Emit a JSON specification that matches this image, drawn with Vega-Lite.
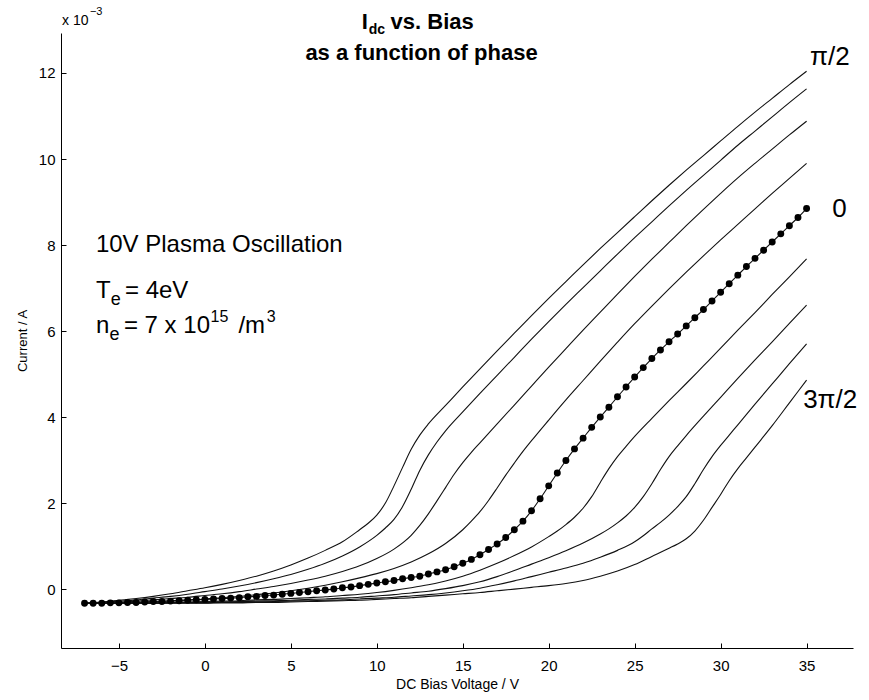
{
"$schema":"https://vega.github.io/schema/vega-lite/v6.json",
"width":792,"height":615,
"autosize":{"type":"none"},
"padding":{"left":61,"top":33,"right":16,"bottom":52},
"background":"white",
"config":{"view":{"stroke":null},"font":"Liberation Sans","axis":{"grid":false,"domainColor":"#000","tickColor":"#000","labelColor":"#000","titleColor":"#000","labelFont":"Liberation Sans","titleFont":"Liberation Sans","titleFontWeight":"normal"}},
"datasets":{
"curves":[
{"curve":1,"bias":-7,"current":-0.33},{"curve":1,"bias":-6,"current":-0.30},{"curve":1,"bias":-5,"current":-0.26},{"curve":1,"bias":-4,"current":-0.22},{"curve":1,"bias":-3,"current":-0.17},{"curve":1,"bias":-2,"current":-0.11},{"curve":1,"bias":-1,"current":-0.04},{"curve":1,"bias":0,"current":0.03},{"curve":1,"bias":1,"current":0.11},{"curve":1,"bias":2,"current":0.2},{"curve":1,"bias":3,"current":0.3},{"curve":1,"bias":4,"current":0.42},{"curve":1,"bias":5,"current":0.56},{"curve":1,"bias":6,"current":0.72},{"curve":1,"bias":7,"current":0.9},{"curve":1,"bias":8,"current":1.1},{"curve":1,"bias":9,"current":1.38},{"curve":1,"bias":9.5,"current":1.53},{"curve":1,"bias":10,"current":1.72},{"curve":1,"bias":10.5,"current":2.0},{"curve":1,"bias":11,"current":2.4},{"curve":1,"bias":11.5,"current":2.83},{"curve":1,"bias":12,"current":3.25},{"curve":1,"bias":12.5,"current":3.58},{"curve":1,"bias":13,"current":3.84},{"curve":1,"bias":14,"current":4.27},{"curve":1,"bias":15,"current":4.7},{"curve":1,"bias":16,"current":5.12},{"curve":1,"bias":17,"current":5.54},{"curve":1,"bias":18,"current":5.95},{"curve":1,"bias":19,"current":6.36},{"curve":1,"bias":20,"current":6.76},{"curve":1,"bias":21,"current":7.15},{"curve":1,"bias":22,"current":7.54},{"curve":1,"bias":23,"current":7.92},{"curve":1,"bias":24,"current":8.29},{"curve":1,"bias":25,"current":8.66},{"curve":1,"bias":26,"current":9.03},{"curve":1,"bias":27,"current":9.39},{"curve":1,"bias":28,"current":9.74},{"curve":1,"bias":29,"current":10.08},{"curve":1,"bias":30,"current":10.42},{"curve":1,"bias":31,"current":10.76},{"curve":1,"bias":32,"current":11.09},{"curve":1,"bias":33,"current":11.41},{"curve":1,"bias":34,"current":11.73},{"curve":1,"bias":35,"current":12.04},
{"curve":2,"bias":-7,"current":-0.33},{"curve":2,"bias":-6,"current":-0.31},{"curve":2,"bias":-5,"current":-0.28},{"curve":2,"bias":-4,"current":-0.25},{"curve":2,"bias":-3,"current":-0.21},{"curve":2,"bias":-2,"current":-0.17},{"curve":2,"bias":-1,"current":-0.12},{"curve":2,"bias":0,"current":-0.06},{"curve":2,"bias":1,"current":0.0},{"curve":2,"bias":2,"current":0.07},{"curve":2,"bias":3,"current":0.15},{"curve":2,"bias":4,"current":0.24},{"curve":2,"bias":5,"current":0.34},{"curve":2,"bias":6,"current":0.46},{"curve":2,"bias":7,"current":0.6},{"curve":2,"bias":8,"current":0.77},{"curve":2,"bias":9,"current":0.98},{"curve":2,"bias":10,"current":1.25},{"curve":2,"bias":10.5,"current":1.42},{"curve":2,"bias":11,"current":1.62},{"curve":2,"bias":11.5,"current":1.92},{"curve":2,"bias":12,"current":2.32},{"curve":2,"bias":12.5,"current":2.76},{"curve":2,"bias":13,"current":3.12},{"curve":2,"bias":13.5,"current":3.42},{"curve":2,"bias":14,"current":3.68},{"curve":2,"bias":15,"current":4.12},{"curve":2,"bias":16,"current":4.55},{"curve":2,"bias":17,"current":4.97},{"curve":2,"bias":18,"current":5.39},{"curve":2,"bias":19,"current":5.81},{"curve":2,"bias":20,"current":6.22},{"curve":2,"bias":21,"current":6.62},{"curve":2,"bias":22,"current":7.01},{"curve":2,"bias":23,"current":7.4},{"curve":2,"bias":24,"current":7.79},{"curve":2,"bias":25,"current":8.17},{"curve":2,"bias":26,"current":8.54},{"curve":2,"bias":27,"current":8.91},{"curve":2,"bias":28,"current":9.27},{"curve":2,"bias":29,"current":9.62},{"curve":2,"bias":30,"current":9.97},{"curve":2,"bias":31,"current":10.32},{"curve":2,"bias":32,"current":10.65},{"curve":2,"bias":33,"current":10.98},{"curve":2,"bias":34,"current":11.31},{"curve":2,"bias":35,"current":11.63},
{"curve":3,"bias":-7,"current":-0.33},{"curve":3,"bias":-6,"current":-0.32},{"curve":3,"bias":-5,"current":-0.3},{"curve":3,"bias":-4,"current":-0.28},{"curve":3,"bias":-3,"current":-0.25},{"curve":3,"bias":-2,"current":-0.22},{"curve":3,"bias":-1,"current":-0.19},{"curve":3,"bias":0,"current":-0.15},{"curve":3,"bias":1,"current":-0.11},{"curve":3,"bias":2,"current":-0.06},{"curve":3,"bias":3,"current":0.0},{"curve":3,"bias":4,"current":0.06},{"curve":3,"bias":5,"current":0.13},{"curve":3,"bias":6,"current":0.21},{"curve":3,"bias":7,"current":0.3},{"curve":3,"bias":8,"current":0.41},{"curve":3,"bias":9,"current":0.54},{"curve":3,"bias":10,"current":0.71},{"curve":3,"bias":11,"current":0.93},{"curve":3,"bias":12,"current":1.25},{"curve":3,"bias":12.5,"current":1.48},{"curve":3,"bias":13,"current":1.75},{"curve":3,"bias":13.5,"current":2.05},{"curve":3,"bias":14,"current":2.36},{"curve":3,"bias":14.5,"current":2.67},{"curve":3,"bias":15,"current":2.94},{"curve":3,"bias":15.5,"current":3.18},{"curve":3,"bias":16,"current":3.4},{"curve":3,"bias":17,"current":3.84},{"curve":3,"bias":18,"current":4.28},{"curve":3,"bias":19,"current":4.72},{"curve":3,"bias":20,"current":5.16},{"curve":3,"bias":21,"current":5.59},{"curve":3,"bias":22,"current":6.02},{"curve":3,"bias":23,"current":6.44},{"curve":3,"bias":24,"current":6.86},{"curve":3,"bias":25,"current":7.27},{"curve":3,"bias":26,"current":7.67},{"curve":3,"bias":27,"current":8.06},{"curve":3,"bias":28,"current":8.45},{"curve":3,"bias":29,"current":8.83},{"curve":3,"bias":30,"current":9.2},{"curve":3,"bias":31,"current":9.56},{"curve":3,"bias":32,"current":9.9},{"curve":3,"bias":33,"current":10.23},{"curve":3,"bias":34,"current":10.56},{"curve":3,"bias":35,"current":10.88},
{"curve":4,"bias":-7,"current":-0.33},{"curve":4,"bias":-6,"current":-0.33},{"curve":4,"bias":-5,"current":-0.32},{"curve":4,"bias":-4,"current":-0.31},{"curve":4,"bias":-3,"current":-0.29},{"curve":4,"bias":-2,"current":-0.27},{"curve":4,"bias":-1,"current":-0.25},{"curve":4,"bias":0,"current":-0.23},{"curve":4,"bias":1,"current":-0.2},{"curve":4,"bias":2,"current":-0.17},{"curve":4,"bias":3,"current":-0.13},{"curve":4,"bias":4,"current":-0.09},{"curve":4,"bias":5,"current":-0.04},{"curve":4,"bias":6,"current":0.02},{"curve":4,"bias":7,"current":0.09},{"curve":4,"bias":8,"current":0.17},{"curve":4,"bias":9,"current":0.26},{"curve":4,"bias":10,"current":0.36},{"curve":4,"bias":11,"current":0.48},{"curve":4,"bias":12,"current":0.63},{"curve":4,"bias":13,"current":0.82},{"curve":4,"bias":14,"current":1.06},{"curve":4,"bias":15,"current":1.38},{"curve":4,"bias":15.5,"current":1.58},{"curve":4,"bias":16,"current":1.8},{"curve":4,"bias":16.5,"current":2.06},{"curve":4,"bias":17,"current":2.35},{"curve":4,"bias":17.5,"current":2.65},{"curve":4,"bias":18,"current":2.93},{"curve":4,"bias":18.5,"current":3.2},{"curve":4,"bias":19,"current":3.45},{"curve":4,"bias":20,"current":3.93},{"curve":4,"bias":21,"current":4.4},{"curve":4,"bias":22,"current":4.85},{"curve":4,"bias":23,"current":5.3},{"curve":4,"bias":24,"current":5.74},{"curve":4,"bias":25,"current":6.17},{"curve":4,"bias":26,"current":6.58},{"curve":4,"bias":27,"current":6.98},{"curve":4,"bias":28,"current":7.37},{"curve":4,"bias":29,"current":7.75},{"curve":4,"bias":30,"current":8.12},{"curve":4,"bias":31,"current":8.48},{"curve":4,"bias":32,"current":8.84},{"curve":4,"bias":33,"current":9.2},{"curve":4,"bias":34,"current":9.55},{"curve":4,"bias":35,"current":9.9},
{"curve":5,"bias":-7,"current":-0.33},{"curve":5,"bias":-6.5,"current":-0.33},{"curve":5,"bias":-6,"current":-0.33},{"curve":5,"bias":-5.5,"current":-0.32},{"curve":5,"bias":-5,"current":-0.32},{"curve":5,"bias":-4.5,"current":-0.31},{"curve":5,"bias":-4,"current":-0.31},{"curve":5,"bias":-3.5,"current":-0.3},{"curve":5,"bias":-3,"current":-0.29},{"curve":5,"bias":-2.5,"current":-0.29},{"curve":5,"bias":-2,"current":-0.28},{"curve":5,"bias":-1.5,"current":-0.27},{"curve":5,"bias":-1,"current":-0.26},{"curve":5,"bias":-0.5,"current":-0.25},{"curve":5,"bias":0,"current":-0.24},{"curve":5,"bias":0.5,"current":-0.23},{"curve":5,"bias":1,"current":-0.22},{"curve":5,"bias":1.5,"current":-0.21},{"curve":5,"bias":2,"current":-0.2},{"curve":5,"bias":2.5,"current":-0.18},{"curve":5,"bias":3,"current":-0.17},{"curve":5,"bias":3.5,"current":-0.15},{"curve":5,"bias":4,"current":-0.14},{"curve":5,"bias":4.5,"current":-0.12},{"curve":5,"bias":5,"current":-0.1},{"curve":5,"bias":5.5,"current":-0.08},{"curve":5,"bias":6,"current":-0.06},{"curve":5,"bias":6.5,"current":-0.04},{"curve":5,"bias":7,"current":-0.02},{"curve":5,"bias":7.5,"current":0.0},{"curve":5,"bias":8,"current":0.03},{"curve":5,"bias":8.5,"current":0.05},{"curve":5,"bias":9,"current":0.08},{"curve":5,"bias":9.5,"current":0.11},{"curve":5,"bias":10,"current":0.14},{"curve":5,"bias":10.5,"current":0.17},{"curve":5,"bias":11,"current":0.2},{"curve":5,"bias":11.5,"current":0.24},{"curve":5,"bias":12,"current":0.27},{"curve":5,"bias":12.5,"current":0.3},{"curve":5,"bias":13,"current":0.35},{"curve":5,"bias":13.5,"current":0.4},{"curve":5,"bias":14,"current":0.45},{"curve":5,"bias":14.5,"current":0.52},{"curve":5,"bias":15,"current":0.6},{"curve":5,"bias":15.5,"current":0.69},{"curve":5,"bias":16,"current":0.8},{"curve":5,"bias":16.5,"current":0.92},{"curve":5,"bias":17,"current":1.05},{"curve":5,"bias":17.5,"current":1.2},{"curve":5,"bias":18,"current":1.38},{"curve":5,"bias":18.5,"current":1.58},{"curve":5,"bias":19,"current":1.82},{"curve":5,"bias":19.5,"current":2.1},{"curve":5,"bias":20,"current":2.4},{"curve":5,"bias":20.5,"current":2.7},{"curve":5,"bias":21,"current":2.99},{"curve":5,"bias":21.5,"current":3.26},{"curve":5,"bias":22,"current":3.51},{"curve":5,"bias":22.5,"current":3.76},{"curve":5,"bias":23,"current":4.0},{"curve":5,"bias":23.5,"current":4.23},{"curve":5,"bias":24,"current":4.47},{"curve":5,"bias":24.5,"current":4.7},{"curve":5,"bias":25,"current":4.93},{"curve":5,"bias":25.5,"current":5.15},{"curve":5,"bias":26,"current":5.36},{"curve":5,"bias":26.5,"current":5.56},{"curve":5,"bias":27,"current":5.75},{"curve":5,"bias":27.5,"current":5.93},{"curve":5,"bias":28,"current":6.12},{"curve":5,"bias":28.5,"current":6.31},{"curve":5,"bias":29,"current":6.5},{"curve":5,"bias":29.5,"current":6.7},{"curve":5,"bias":30,"current":6.9},{"curve":5,"bias":30.5,"current":7.1},{"curve":5,"bias":31,"current":7.3},{"curve":5,"bias":31.5,"current":7.5},{"curve":5,"bias":32,"current":7.69},{"curve":5,"bias":32.5,"current":7.88},{"curve":5,"bias":33,"current":8.07},{"curve":5,"bias":33.5,"current":8.26},{"curve":5,"bias":34,"current":8.45},{"curve":5,"bias":34.5,"current":8.64},{"curve":5,"bias":35,"current":8.85},
{"curve":6,"bias":-7,"current":-0.33},{"curve":6,"bias":-6,"current":-0.33},{"curve":6,"bias":-5,"current":-0.33},{"curve":6,"bias":-4,"current":-0.32},{"curve":6,"bias":-3,"current":-0.32},{"curve":6,"bias":-2,"current":-0.31},{"curve":6,"bias":-1,"current":-0.3},{"curve":6,"bias":0,"current":-0.29},{"curve":6,"bias":1,"current":-0.28},{"curve":6,"bias":2,"current":-0.27},{"curve":6,"bias":3,"current":-0.25},{"curve":6,"bias":4,"current":-0.24},{"curve":6,"bias":5,"current":-0.22},{"curve":6,"bias":6,"current":-0.2},{"curve":6,"bias":7,"current":-0.18},{"curve":6,"bias":8,"current":-0.15},{"curve":6,"bias":9,"current":-0.12},{"curve":6,"bias":10,"current":-0.08},{"curve":6,"bias":11,"current":-0.03},{"curve":6,"bias":12,"current":0.03},{"curve":6,"bias":13,"current":0.1},{"curve":6,"bias":14,"current":0.19},{"curve":6,"bias":15,"current":0.3},{"curve":6,"bias":16,"current":0.44},{"curve":6,"bias":17,"current":0.6},{"curve":6,"bias":18,"current":0.78},{"curve":6,"bias":19,"current":0.98},{"curve":6,"bias":20,"current":1.22},{"curve":6,"bias":20.5,"current":1.35},{"curve":6,"bias":21,"current":1.5},{"curve":6,"bias":21.5,"current":1.67},{"curve":6,"bias":22,"current":1.88},{"curve":6,"bias":22.5,"current":2.15},{"curve":6,"bias":23,"current":2.48},{"curve":6,"bias":23.5,"current":2.8},{"curve":6,"bias":24,"current":3.08},{"curve":6,"bias":24.5,"current":3.32},{"curve":6,"bias":25,"current":3.55},{"curve":6,"bias":26,"current":3.97},{"curve":6,"bias":27,"current":4.38},{"curve":6,"bias":28,"current":4.78},{"curve":6,"bias":29,"current":5.19},{"curve":6,"bias":30,"current":5.6},{"curve":6,"bias":31,"current":6.02},{"curve":6,"bias":32,"current":6.43},{"curve":6,"bias":33,"current":6.85},{"curve":6,"bias":34,"current":7.26},{"curve":6,"bias":35,"current":7.68},
{"curve":7,"bias":-7,"current":-0.33},{"curve":7,"bias":-5,"current":-0.33},{"curve":7,"bias":-3,"current":-0.32},{"curve":7,"bias":-1,"current":-0.31},{"curve":7,"bias":0,"current":-0.31},{"curve":7,"bias":1,"current":-0.3},{"curve":7,"bias":2,"current":-0.29},{"curve":7,"bias":3,"current":-0.28},{"curve":7,"bias":4,"current":-0.27},{"curve":7,"bias":5,"current":-0.26},{"curve":7,"bias":6,"current":-0.24},{"curve":7,"bias":7,"current":-0.23},{"curve":7,"bias":8,"current":-0.21},{"curve":7,"bias":9,"current":-0.19},{"curve":7,"bias":10,"current":-0.16},{"curve":7,"bias":11,"current":-0.13},{"curve":7,"bias":12,"current":-0.09},{"curve":7,"bias":13,"current":-0.05},{"curve":7,"bias":14,"current":0.01},{"curve":7,"bias":15,"current":0.08},{"curve":7,"bias":16,"current":0.17},{"curve":7,"bias":17,"current":0.29},{"curve":7,"bias":18,"current":0.43},{"curve":7,"bias":19,"current":0.58},{"curve":7,"bias":20,"current":0.73},{"curve":7,"bias":21,"current":0.89},{"curve":7,"bias":22,"current":1.07},{"curve":7,"bias":23,"current":1.28},{"curve":7,"bias":23.5,"current":1.4},{"curve":7,"bias":24,"current":1.54},{"curve":7,"bias":24.5,"current":1.7},{"curve":7,"bias":25,"current":1.9},{"curve":7,"bias":25.5,"current":2.15},{"curve":7,"bias":26,"current":2.45},{"curve":7,"bias":26.5,"current":2.78},{"curve":7,"bias":27,"current":3.08},{"curve":7,"bias":27.5,"current":3.33},{"curve":7,"bias":28,"current":3.57},{"curve":7,"bias":29,"current":4.02},{"curve":7,"bias":30,"current":4.46},{"curve":7,"bias":31,"current":4.9},{"curve":7,"bias":32,"current":5.33},{"curve":7,"bias":33,"current":5.75},{"curve":7,"bias":34,"current":6.18},{"curve":7,"bias":35,"current":6.6},
{"curve":8,"bias":-7,"current":-0.33},{"curve":8,"bias":-5,"current":-0.33},{"curve":8,"bias":-3,"current":-0.33},{"curve":8,"bias":-1,"current":-0.32},{"curve":8,"bias":0,"current":-0.32},{"curve":8,"bias":1,"current":-0.31},{"curve":8,"bias":2,"current":-0.31},{"curve":8,"bias":3,"current":-0.3},{"curve":8,"bias":4,"current":-0.29},{"curve":8,"bias":5,"current":-0.28},{"curve":8,"bias":6,"current":-0.27},{"curve":8,"bias":7,"current":-0.26},{"curve":8,"bias":8,"current":-0.25},{"curve":8,"bias":9,"current":-0.23},{"curve":8,"bias":10,"current":-0.21},{"curve":8,"bias":11,"current":-0.19},{"curve":8,"bias":12,"current":-0.16},{"curve":8,"bias":13,"current":-0.13},{"curve":8,"bias":14,"current":-0.09},{"curve":8,"bias":15,"current":-0.04},{"curve":8,"bias":16,"current":0.02},{"curve":8,"bias":17,"current":0.1},{"curve":8,"bias":18,"current":0.19},{"curve":8,"bias":19,"current":0.29},{"curve":8,"bias":20,"current":0.39},{"curve":8,"bias":21,"current":0.49},{"curve":8,"bias":22,"current":0.6},{"curve":8,"bias":23,"current":0.74},{"curve":8,"bias":24,"current":0.9},{"curve":8,"bias":25,"current":1.1},{"curve":8,"bias":25.5,"current":1.24},{"curve":8,"bias":26,"current":1.4},{"curve":8,"bias":26.5,"current":1.55},{"curve":8,"bias":27,"current":1.72},{"curve":8,"bias":27.5,"current":1.92},{"curve":8,"bias":28,"current":2.15},{"curve":8,"bias":28.5,"current":2.45},{"curve":8,"bias":29,"current":2.78},{"curve":8,"bias":29.5,"current":3.08},{"curve":8,"bias":30,"current":3.34},{"curve":8,"bias":30.5,"current":3.58},{"curve":8,"bias":31,"current":3.82},{"curve":8,"bias":32,"current":4.3},{"curve":8,"bias":33,"current":4.77},{"curve":8,"bias":34,"current":5.24},{"curve":8,"bias":35,"current":5.7},
{"curve":9,"bias":-7,"current":-0.33},{"curve":9,"bias":-5,"current":-0.33},{"curve":9,"bias":-3,"current":-0.33},{"curve":9,"bias":-1,"current":-0.33},{"curve":9,"bias":0,"current":-0.33},{"curve":9,"bias":1,"current":-0.32},{"curve":9,"bias":2,"current":-0.32},{"curve":9,"bias":3,"current":-0.31},{"curve":9,"bias":4,"current":-0.31},{"curve":9,"bias":5,"current":-0.3},{"curve":9,"bias":6,"current":-0.29},{"curve":9,"bias":7,"current":-0.28},{"curve":9,"bias":8,"current":-0.27},{"curve":9,"bias":9,"current":-0.26},{"curve":9,"bias":10,"current":-0.24},{"curve":9,"bias":11,"current":-0.22},{"curve":9,"bias":12,"current":-0.2},{"curve":9,"bias":13,"current":-0.17},{"curve":9,"bias":14,"current":-0.14},{"curve":9,"bias":15,"current":-0.11},{"curve":9,"bias":16,"current":-0.08},{"curve":9,"bias":17,"current":-0.04},{"curve":9,"bias":18,"current":0.0},{"curve":9,"bias":19,"current":0.04},{"curve":9,"bias":20,"current":0.08},{"curve":9,"bias":21,"current":0.13},{"curve":9,"bias":22,"current":0.2},{"curve":9,"bias":23,"current":0.3},{"curve":9,"bias":24,"current":0.42},{"curve":9,"bias":25,"current":0.57},{"curve":9,"bias":26,"current":0.76},{"curve":9,"bias":27,"current":0.95},{"curve":9,"bias":27.5,"current":1.05},{"curve":9,"bias":28,"current":1.17},{"curve":9,"bias":28.5,"current":1.35},{"curve":9,"bias":29,"current":1.6},{"curve":9,"bias":29.5,"current":1.9},{"curve":9,"bias":30,"current":2.2},{"curve":9,"bias":30.5,"current":2.52},{"curve":9,"bias":31,"current":2.8},{"curve":9,"bias":31.5,"current":3.05},{"curve":9,"bias":32,"current":3.3},{"curve":9,"bias":33,"current":3.8},{"curve":9,"bias":34,"current":4.33},{"curve":9,"bias":35,"current":4.86}
],
"notes":[
{"role":"title","text":"I","bias":9.13,"current":13.02},
{"role":"titlesub","text":"dc","bias":9.53,"current":12.9},
{"role":"title","text":"vs. Bias","bias":10.8,"current":13.02},
{"role":"title2","text":"as a function of phase","bias":12.6,"current":12.31},
{"role":"note","text":"10V Plasma Oscillation","bias":-6.34,"current":7.84},
{"role":"note","text":"T","bias":-6.34,"current":6.76},
{"role":"notesub","text":"e","bias":-5.47,"current":6.61},
{"role":"note","text":"= 4eV","bias":-4.65,"current":6.76},
{"role":"note","text":"n","bias":-6.34,"current":5.96},
{"role":"notesub","text":"e","bias":-5.55,"current":5.79},
{"role":"note","text":"= 7 x 10","bias":-4.71,"current":5.96},
{"role":"notesup","text":"15","bias":0.33,"current":6.21},
{"role":"note","text":"/m","bias":1.95,"current":5.96},
{"role":"notesup","text":"3","bias":3.6,"current":6.21},
{"role":"phase","text":"π/2","bias":35.2,"current":12.19},
{"role":"phase","text":"0","bias":36.5,"current":8.65},
{"role":"phase","text":"3π/2","bias":34.8,"current":4.21},
{"role":"exp","text":"x 10","bias":-8.31,"current":13.12},
{"role":"expsup","text":"−3","bias":-6.69,"current":13.35}
]
},
"encoding":{
"x":{"field":"bias","type":"quantitative","scale":{"domain":[-8.37,37.7],"nice":false,"zero":false},"axis":{"values":[-5,0,5,10,15,20,25,30,35],"title":"DC Bias Voltage / V","tickSize":-5,"labelPadding":15,"labelFontSize":15,"titleFontSize":14,"titlePadding":4}},
"y":{"field":"current","type":"quantitative","scale":{"domain":[-1.37,12.93],"nice":false,"zero":false},"axis":{"values":[0,2,4,6,8,10,12],"title":"Current / A","tickSize":-5,"labelPadding":11,"labelFontSize":15,"titleFontSize":13,"titlePadding":9}}
},
"layer":[
{"data":{"name":"curves"},"mark":{"type":"line","color":"#111","strokeWidth":1.1,"interpolate":"monotone"},"encoding":{"detail":{"field":"curve","type":"nominal"}}},
{"data":{"name":"curves"},"transform":[{"filter":"datum.curve == 5"}],"mark":{"type":"point","filled":true,"color":"#000","size":48,"opacity":1}},
{"data":{"name":"notes"},"transform":[{"filter":"datum.role == 'title'"}],"mark":{"type":"text","align":"left","baseline":"alphabetic","fontSize":22,"fontWeight":"bold","color":"#000"},"encoding":{"text":{"field":"text"}}},
{"data":{"name":"notes"},"transform":[{"filter":"datum.role == 'titlesub'"}],"mark":{"type":"text","align":"left","baseline":"alphabetic","fontSize":14,"fontWeight":"bold","color":"#000"},"encoding":{"text":{"field":"text"}}},
{"data":{"name":"notes"},"transform":[{"filter":"datum.role == 'title2'"}],"mark":{"type":"text","align":"center","baseline":"alphabetic","fontSize":22,"fontWeight":"bold","color":"#000"},"encoding":{"text":{"field":"text"}}},
{"data":{"name":"notes"},"transform":[{"filter":"datum.role == 'note'"}],"mark":{"type":"text","align":"left","baseline":"alphabetic","fontSize":24,"color":"#000"},"encoding":{"text":{"field":"text"}}},
{"data":{"name":"notes"},"transform":[{"filter":"datum.role == 'notesub'"}],"mark":{"type":"text","align":"left","baseline":"alphabetic","fontSize":18,"color":"#000"},"encoding":{"text":{"field":"text"}}},
{"data":{"name":"notes"},"transform":[{"filter":"datum.role == 'notesup'"}],"mark":{"type":"text","align":"left","baseline":"alphabetic","fontSize":16,"color":"#000"},"encoding":{"text":{"field":"text"}}},
{"data":{"name":"notes"},"transform":[{"filter":"datum.role == 'phase'"}],"mark":{"type":"text","align":"left","baseline":"alphabetic","fontSize":26,"color":"#000"},"encoding":{"text":{"field":"text"}}},
{"data":{"name":"notes"},"transform":[{"filter":"datum.role == 'exp'"}],"mark":{"type":"text","align":"left","baseline":"alphabetic","fontSize":14,"color":"#000"},"encoding":{"text":{"field":"text"}}},
{"data":{"name":"notes"},"transform":[{"filter":"datum.role == 'expsup'"}],"mark":{"type":"text","align":"left","baseline":"alphabetic","fontSize":11,"color":"#000"},"encoding":{"text":{"field":"text"}}}
]
}
